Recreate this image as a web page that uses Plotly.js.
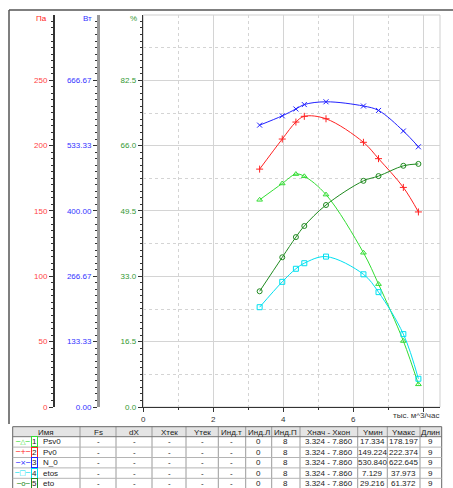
<!DOCTYPE html>
<html>
<head>
<meta charset="utf-8">
<script src="https://cdn.plot.ly/plotly-3.0.1.min.js"></script>
<style>html,body{margin:0;padding:0;background:#fff}#chart{width:453px;height:488px}</style>
</head>
<body>
<div id="chart"></div>
<script>
// ---- data ----
const flowX = [3.324, 3.97, 4.36, 4.6, 5.22, 6.29, 6.72, 7.43, 7.86];
const psv0 = [158.5, 171.0, 178.197, 176.5, 162.5, 118.0, 94.0, 50.5, 17.334];
const pv0 = [182.0, 205.0, 218.0, 222.374, 220.5, 202.5, 190.0, 168.0, 149.224];
const n0 = [575.0, 594.0, 608.0, 617.0, 622.645, 614.0, 605.0, 563.0, 530.84];
const etos = [25.2, 31.6, 34.9, 36.3, 37.973, 33.5, 29.0, 18.4, 7.129];
const eto = [29.216, 37.8, 42.9, 45.7, 51.0, 57.1, 58.3, 60.9, 61.372];
const seriesNames = ['Psv0', 'Pv0', 'N_0', 'etos', 'eto'];
const seriesColors = ['#33dd33', '#ff2222', '#2222ff', '#00e0f0', '#1f8a1f'];
const seriesGlyphs = ['\u2500\u25B3\u2500', '\u2500+\u2500', '\u2500\u00D7\u2500', '\u2500\u25A1\u2500', '\u2500o\u2500'];
const tableHeader = ['Имя', 'Fs', 'dX', 'Xтек', 'Yтек', 'Инд.т', 'Инд.Л', 'Инд.П', 'Xнач - Xкон', 'Yмин', 'Yмакс', 'Длин'];
const xTickVals = [0, 2, 4, 6, 8];
const xTickText = ['0', '2', '4', '6', ''];
const xMinorVals = [1, 3, 5, 7];

// ---- geometry helpers ----
const W = 453, H = 488;
const px = v => v / W;
const py = v => 1 - v / H;
const FONT = 'Liberation Sans, Arial, sans-serif';

const allSeries = [psv0, pv0, n0, etos, eto];
const markerSyms = ['triangle-up-open', 'cross-thin-open', 'x-thin-open', 'square-open', 'circle-open'];
const axesFor = ['y', 'y', 'y2', 'y3', 'y3'];

const traces = allSeries.map((s, i) => ({
  type: 'scatter', mode: 'lines+markers', x: flowX, y: s, yaxis: axesFor[i], name: seriesNames[i],
  line: {color: seriesColors[i], width: 1, shape: 'spline', smoothing: 1},
  marker: {symbol: markerSyms[i], size: 5, color: seriesColors[i], line: {color: seriesColors[i], width: 1}},
  cliponaxis: false, hoverinfo: 'skip'
}));
traces.push({type: 'scatter', x: [], y: [], yaxis: 'y4', showlegend: false, hoverinfo: 'skip'});

// ---- table (built from the series) ----
const fmt3 = v => v.toFixed(3);
const dash = seriesNames.map(() => '-');
const rangeCol = seriesNames.map(() => fmt3(flowX[0]) + ' - ' + fmt3(flowX[flowX.length - 1]));
const minCol = allSeries.map(s => fmt3(Math.min(...s)));
const maxCol = allSeries.map(s => fmt3(Math.max(...s)));
const lenCol = allSeries.map(s => String(s.length));
const indL = seriesNames.map(() => '0');
const indP = allSeries.map(s => String(s.length - 1));
const bodyCols = [null, dash, dash, dash, dash, dash, indL, indP, rangeCol, minCol, maxCol, lenCol];

const colEdges = [12.7, 80, 116, 152, 186, 218.3, 245.7, 271.7, 300, 357.7, 387.3, 420, 441.7];
const headTop = 426.7, headBot = 436.7, rowH = 10.4;
const rowY = i => py(headBot + rowH * (i + 0.5));
const tableBottom = H;

const tShapes = [];
tShapes.push({type: 'rect', xref: 'paper', yref: 'paper', x0: px(colEdges[0]), x1: px(colEdges[colEdges.length - 1]), y0: py(headBot), y1: py(headTop), fillcolor: '#e4e4e4', line: {width: 0}, layer: 'below'});
colEdges.forEach((cx, k) => tShapes.push({type: 'line', xref: 'paper', yref: 'paper', x0: px(cx), x1: px(cx), y0: py(tableBottom), y1: py(headTop),
  line: {color: (k === 0 || k === colEdges.length - 1) ? '#666' : '#9a9a9a', width: 1}}));
tShapes.push({type: 'line', xref: 'paper', yref: 'paper', x0: px(colEdges[0]), x1: px(colEdges[colEdges.length - 1]), y0: py(headTop), y1: py(headTop), line: {color: '#666', width: 1}});
for (let r = 0; r <= seriesNames.length; r++) {
  const yy = headBot + rowH * r;
  if (yy < tableBottom) tShapes.push({type: 'line', xref: 'paper', yref: 'paper', x0: px(colEdges[0]), x1: px(colEdges[colEdges.length - 1]), y0: py(yy), y1: py(yy), line: {color: r === 0 ? '#777' : '#b4b4b4', width: 1}});
}

const txt = (x, y, t, anchor, extra) => Object.assign({xref: 'paper', yref: 'paper', x: x, y: y, xanchor: anchor, yanchor: 'middle',
  text: t, showarrow: false, font: {family: FONT, size: 8, color: '#222'}}, extra || {});
const tAnn = [];
tableHeader.forEach((h, k) => tAnn.push(txt(px((colEdges[k] + colEdges[k + 1]) / 2), py((headTop + headBot) / 2 + 0.5), h, 'center')));
seriesNames.forEach((n, i) => {
  tAnn.push(txt(px(22.5), rowY(i), seriesGlyphs[i], 'center', {font: {family: 'DejaVu Sans, sans-serif', size: 7, color: seriesColors[i]}}));
  tAnn.push(txt(px(34.5), rowY(i), String(i + 1), 'center', {bordercolor: seriesColors[i], borderwidth: 1, borderpad: 0, bgcolor: '#fff'}));
  tAnn.push(txt(px(40.5), rowY(i), n, 'left'));
  for (let k = 1; k < bodyCols.length; k++) {
    tAnn.push(txt(px((colEdges[k] + colEdges[k + 1]) / 2), rowY(i), bodyCols[k][i], 'center'));
  }
});

const yDomain = [(H - 407) / H, (H - 15) / H];
const tickF = c => ({family: FONT, size: 8, color: c});

const layout = {
  width: W, height: H, margin: {l: 0, r: 0, t: 0, b: 0},
  paper_bgcolor: '#fff', plot_bgcolor: '#fff', showlegend: false,
  xaxis: {domain: [px(143.3), px(440)], range: [0, 8.477], anchor: 'y', tickmode: 'array', tickvals: xTickVals, ticktext: xTickText,
    ticks: 'outside', ticklen: 4, tickcolor: '#333', showline: true, linecolor: '#333', linewidth: 1,
    showgrid: true, gridcolor: '#d4d4d4', gridwidth: 1, zeroline: false, tickfont: tickF('#333'),
    minor: {tickmode: 'array', tickvals: xMinorVals, ticks: 'outside', ticklen: 2, tickcolor: '#333', showgrid: true, griddash: 'dot', gridcolor: '#d4d4d4'}},
  yaxis: {domain: yDomain, range: [0, 299.9], anchor: 'free', position: px(53), side: 'left', tick0: 0, dtick: 50,
    ticks: 'outside', ticklen: 4, tickcolor: '#333', showline: true, linecolor: '#333', linewidth: 1.5,
    showgrid: false, zeroline: false, tickfont: tickF('#ff4444'),
    minor: {tick0: 0, dtick: 5, ticks: 'outside', ticklen: 2, tickcolor: '#333', showgrid: false}},
  yaxis2: {overlaying: 'y', range: [0, 799.7], anchor: 'free', position: px(98), side: 'left', tick0: 0, dtick: 800 / 6, tickformat: '.2f',
    ticks: 'outside', ticklen: 4, tickcolor: '#333', showline: true, linecolor: '#9a9a9a', linewidth: 3,
    showgrid: false, zeroline: false, tickfont: tickF('#3333ff'),
    minor: {tick0: 0, dtick: 800 / 60, ticks: 'outside', ticklen: 2, tickcolor: '#333', showgrid: false}},
  yaxis3: {overlaying: 'y', range: [0, 98.97], anchor: 'x', side: 'left', tick0: 0, dtick: 16.5, tickformat: '.1f',
    ticks: 'outside', ticklen: 4, tickcolor: '#333', showline: true, linecolor: '#333', linewidth: 1.5,
    showgrid: true, gridcolor: '#d4d4d4', zeroline: false, tickfont: tickF('#339933'),
    minor: {tick0: 0, dtick: 1.65, ticks: 'outside', ticklen: 2, tickcolor: '#333', showgrid: false}},
  yaxis4: {overlaying: 'y', range: [0, 300], anchor: 'x', side: 'right', tick0: 25, dtick: 50,
    showticklabels: false, ticks: '', showline: false, zeroline: false,
    showgrid: true, griddash: 'dot', gridcolor: '#d4d4d4'},
  shapes: [
    {type: 'rect', xref: 'paper', yref: 'paper', x0: px(143.3), x1: px(440), y0: py(407), y1: py(15), line: {color: '#cfcfcf', width: 1}, layer: 'below'},
    {type: 'line', xref: 'paper', yref: 'paper', x0: px(9), x1: 1, y0: py(10), y1: py(10), line: {color: '#555', width: 1.5}},
    {type: 'line', xref: 'paper', yref: 'paper', x0: px(9), x1: px(9), y0: py(10), y1: py(424), line: {color: '#555', width: 1.5}}
  ].concat(tShapes),
  annotations: [
    {xref: 'paper', yref: 'paper', x: px(49), y: py(19), xanchor: 'right', yanchor: 'middle', text: 'Па', showarrow: false, font: tickF('#ff2222')},
    {xref: 'paper', yref: 'paper', x: px(94), y: py(19), xanchor: 'right', yanchor: 'middle', text: 'Вт', showarrow: false, font: tickF('#3333ff')},
    {xref: 'paper', yref: 'paper', x: px(139), y: py(19), xanchor: 'right', yanchor: 'middle', text: '%', showarrow: false, font: tickF('#339933')},
    {xref: 'paper', yref: 'paper', x: px(391), y: py(415), xanchor: 'left', yanchor: 'middle', text: 'тыс. м^3/час', showarrow: false, font: tickF('#333')}
  ].concat(tAnn)
};

Plotly.newPlot('chart', traces, layout, {staticPlot: true, displayModeBar: false});
</script>
</body>
</html>
